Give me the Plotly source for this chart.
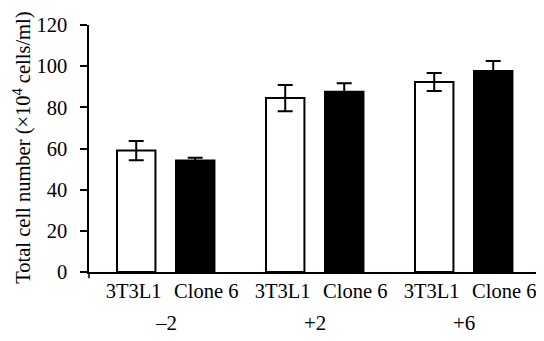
import plotly.graph_objects as go

groups = ["–2", "+2", "+6"]
series_names = ["3T3L1", "Clone 6"]
vals_3t3l1 = [59.0, 84.5, 92.3]
err_3t3l1 = [4.7, 6.4, 4.4]
vals_clone6 = [54.2, 87.6, 97.7]
err_clone6 = [1.3, 4.1, 4.8]
y_ticks = [0, 20, 40, 60, 80, 100, 120]

offset = 0.198
width = 0.258
label_off = (-0.215, 0.272)
gx = list(range(len(groups)))
x1 = [g - offset for g in gx]
x2 = [g + offset for g in gx]
lx = [g + label_off[0] for g in gx] + [g + label_off[1] for g in gx]

font = "Liberation Serif"

fig = go.Figure()
fig.add_trace(go.Bar(
    x=x1, y=vals_3t3l1, width=width, name=series_names[0],
    marker=dict(color="white", line=dict(color="black", width=2)),
    error_y=dict(type="data", array=err_3t3l1, visible=True, color="black", thickness=2, width=7.5),
))
fig.add_trace(go.Bar(
    x=x2, y=vals_clone6, width=width, name=series_names[1],
    marker=dict(color="black", line=dict(color="black", width=2)),
    error_y=dict(type="data", array=err_clone6, visible=True, color="black", thickness=2, width=7.5),
))

for g, lab in zip(gx, groups):
    fig.add_annotation(x=g, y=-0.206, xref="x", yref="paper", text=lab, showarrow=False,
                       font=dict(family=font, size=21, color="black"), yanchor="middle")

fig.add_annotation(x=-0.148, y=0.504, xref="paper", yref="paper", textangle=-90,
                   text="Total cell number (×10<sup>4</sup> cells/ml)", showarrow=False,
                   font=dict(family=font, size=20.5, color="black"),
                   xanchor="center", yanchor="middle")

fig.update_layout(
    width=536, height=333,
    margin=dict(l=81, r=4, t=17, b=69, autoexpand=False),
    plot_bgcolor="white", paper_bgcolor="white",
    showlegend=False, barmode="overlay",
    font=dict(family=font, size=20.5, color="black"),
    xaxis=dict(range=[-0.515, 2.512], tickvals=lx,
               ticktext=[series_names[0]] * 3 + [series_names[1]] * 3,
               showline=True, linecolor="black", linewidth=1.5, ticks="",
               showgrid=False, zeroline=False, tickfont=dict(family=font, size=20.5), automargin=False),
    yaxis=dict(range=[0, 120], tickvals=y_ticks, showline=True, linecolor="black", linewidth=1.5,
               ticks="outside", ticklen=7, tickwidth=1.5, tickcolor="black", ticklabelstandoff=9,
               showgrid=False, zeroline=False, tickfont=dict(family=font, size=20.5), automargin=False),
)
fig.add_shape(type="line", xref="paper", yref="paper", x0=0, x1=0, y0=0, y1=-0.025,
              line=dict(color="black", width=1.5))

fig.write_html("out.html")
